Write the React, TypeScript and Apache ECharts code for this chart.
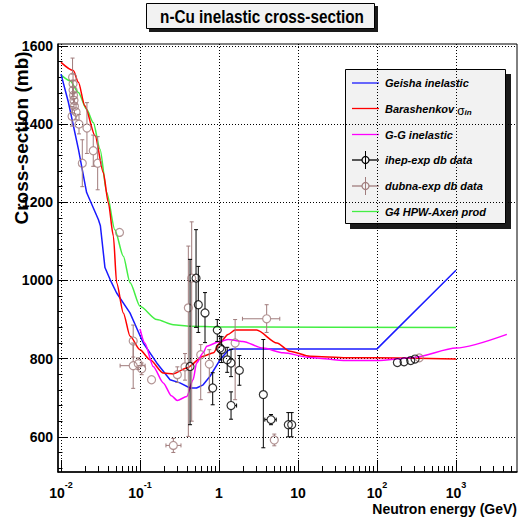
import React, { useEffect, useRef } from 'react';
import * as echarts from 'echarts';

// ---------- axis ticks ----------
const xMajorTicks = [0.01, 0.1, 1, 10, 100, 1000];
const xMinorMult = [2, 3, 4, 5, 6, 7, 8, 9];
const yMajorTicks = [600, 800, 1000, 1200, 1400, 1600];
const yMinorTicks = [520, 560, 640, 680, 720, 760, 840, 880, 920, 960, 1040, 1080, 1120, 1160, 1240, 1280, 1320, 1360, 1440, 1480, 1520, 1560];

// ---------- model curves ----------
const geishaE = [0.01, 0.0112, 0.0124, 0.0166, 0.0211, 0.0297, 0.0315, 0.036, 0.0417, 0.0506, 0.0746, 0.11, 0.163, 0.24, 0.32, 0.43, 0.52, 0.63, 0.77, 1.03, 1.3, 1.5, 100, 1000];
const geishaV = [1528, 1490, 1456, 1336, 1225, 1156, 1140, 1033, 1003, 968, 917, 840, 789, 746, 738, 725, 725, 733, 755, 797, 821, 825, 825, 1026];

const baraE = [0.01, 0.0143, 0.0166, 0.02, 0.027, 0.0343, 0.0397, 0.046, 0.0506, 0.0615, 0.075, 0.1, 0.134, 0.197, 0.264, 0.39, 0.63, 0.85, 1.03, 1.3, 1.6, 3.0, 5.4, 7.9, 14.2, 41, 100, 1000];
const baraV = [1558, 1537, 1507, 1447, 1370, 1276, 1199, 1114, 994, 917, 857, 823, 797, 763, 761, 776, 806, 815, 841, 862, 873, 873, 840, 819, 806, 802, 802, 799];

const ggE = [0.1, 0.115, 0.147, 0.197, 0.25, 0.296, 0.39, 0.47, 0.52, 0.63, 0.7, 1.03, 1.3, 2.0, 3.6, 6.5, 14, 41, 100, 290, 1000, 4400];
const ggV = [876, 840, 780, 738, 705, 693, 703, 746, 789, 815, 832, 844, 849, 844, 827, 815, 803, 795, 795, 803, 827, 862];

const hpwE = [0.01, 0.013, 0.0166, 0.0211, 0.0256, 0.0312, 0.0379, 0.048, 0.0615, 0.075, 0.1, 0.163, 0.264, 0.43, 1, 1000];
const hpwV = [1526, 1511, 1481, 1438, 1404, 1336, 1225, 1130, 1062, 994, 934, 900, 887, 883, 881, 880];

// ---------- ihep-exp data ----------
const ihepE = [0.512, 0.547, 0.665, 0.43, 0.832, 0.951, 1.03, 1.08, 1.27, 1.42, 1.81, 1.42, 3.64, 4.55, 7.54, 8.32, 181, 220, 267, 303];
const ihepV = [1006, 938, 917, 780, 725, 873, 827, 823, 797, 789, 770, 680, 708, 644, 631, 631, 790, 792, 795, 799];
const ihepVLo = [880, 867, 841, 631, 682, 844, 797, 790, 765, 754, 732, 645, 572, 631, 600, 600, 787, 789, 792, 796];
const ihepVHi = [1130, 1036, 969, 1054, 764, 900, 857, 856, 829, 824, 808, 715, 849, 657, 662, 662, 793, 795, 798, 802];
const ihepELo = [0.512, 0.547, 0.665, 0.43, 0.832, 0.951, 1.03, 1.08, 1.27, 1.42, 1.81, 1.25, 3.64, 3.8, 7.54, 8.32, 181, 220, 267, 303];
const ihepEHi = [0.512, 0.547, 0.665, 0.43, 0.832, 0.951, 1.03, 1.08, 1.27, 1.42, 1.81, 1.67, 3.64, 5.3, 7.54, 8.32, 181, 220, 267, 303];

// ---------- dubna-exp data ----------
const dubE = [0.014, 0.0142, 0.0142, 0.0144, 0.0146, 0.0148, 0.0138, 0.0155, 0.0169, 0.0213, 0.0186, 0.0256, 0.0291, 0.055, 0.082, 0.082, 0.095, 0.105, 0.14, 0.264, 0.297, 0.371, 0.409, 0.451, 0.587, 0.754, 1.6, 4.01, 5.01, 343];
const dubV = [1520, 1503, 1487, 1474, 1461, 1446, 1420, 1431, 1400, 1390, 1300, 1332, 1300, 1123, 845, 782, 787, 774, 746, 578, 759, 779, 930, 1006, 810, 786, 840, 902, 592, 802];
const dubVLo = [1471, 1478, 1462, 1454, 1441, 1426, 1395, 1411, 1375, 1325, 1240, 1292, 1232, 1115, 804, 724, 772, 759, 746, 560, 739, 745, 601, 640, 695, 713, 695, 867, 577, 799];
const dubVHi = [1569, 1528, 1512, 1494, 1481, 1466, 1445, 1451, 1425, 1455, 1360, 1372, 1368, 1131, 886, 840, 802, 789, 746, 596, 779, 813, 1088, 1150, 836, 823, 900, 938, 607, 805];
const dubELo = [0.014, 0.0142, 0.0142, 0.0144, 0.0146, 0.0148, 0.0138, 0.0155, 0.0169, 0.0213, 0.0186, 0.0256, 0.0291, 0.055, 0.082, 0.056, 0.095, 0.105, 0.14, 0.213, 0.297, 0.371, 0.409, 0.451, 0.587, 0.754, 1.6, 1.98, 4.4, 343];
const dubEHi = [0.014, 0.0142, 0.0142, 0.0144, 0.0146, 0.0148, 0.0138, 0.0155, 0.0169, 0.0213, 0.0186, 0.0256, 0.0291, 0.055, 0.082, 0.116, 0.095, 0.105, 0.14, 0.33, 0.297, 0.371, 0.409, 0.451, 0.587, 0.754, 1.6, 5.88, 5.7, 343];

// ---------- texts ----------
const titleText = 'n-Cu inelastic cross-section';
const xTitle = 'Neutron energy (GeV)';
const yTitle = 'Cross-section (mb)';
const legendNames = ['Geisha inelastic', 'Barashenkov', 'G-G inelastic', 'ihep-exp db data', 'dubna-exp db data', 'G4 HPW-Axen prod'];

const C_BLUE = '#1a1aff';
const C_RED = '#ff0000';
const C_MAG = '#ff00ff';
const C_GREEN = '#44ee44';
const C_IHEP = '#000000';
const C_DUB = '#a07c7c';

const SANS = '"Liberation Sans", Arial, Helvetica, sans-serif';

const X_MIN = 0.00916;
const X_MAX = 5916;
const Y_MIN = 510;
const Y_MAX = 1605;

function pairs(xs: number[], ys: number[]) {
  return xs.map((x, i) => [x, ys[i]]);
}

function errRows(e: number[], v: number[], lo: number[], hi: number[], el: number[], eh: number[]) {
  return e.map((x, i) => [x, v[i], lo[i], hi[i], el[i], eh[i]]);
}

function makeErrRenderer(color: string) {
  return (params: any, api: any) => {
    const E = api.value(0);
    const v = api.value(1);
    const c = api.coord([E, v]);
    const pLo = api.coord([E, api.value(2)]);
    const pHi = api.coord([E, api.value(3)]);
    const pL = api.coord([api.value(4), v]);
    const pR = api.coord([api.value(5), v]);
    const r = 4;
    const cap = 2;
    const style = { stroke: color, lineWidth: 1 };
    const children: any[] = [];
    const seg = (x1: number, y1: number, x2: number, y2: number) =>
      children.push({ type: 'line', shape: { x1, y1, x2, y2 }, style });
    if (pLo[1] - c[1] > r + 0.5) {
      seg(c[0], c[1] + r, c[0], pLo[1]);
      seg(c[0] - cap, pLo[1], c[0] + cap, pLo[1]);
    }
    if (c[1] - pHi[1] > r + 0.5) {
      seg(c[0], c[1] - r, c[0], pHi[1]);
      seg(c[0] - cap, pHi[1], c[0] + cap, pHi[1]);
    }
    if (c[0] - pL[0] > r + 0.5) {
      seg(c[0] - r, c[1], pL[0], c[1]);
      seg(pL[0], c[1] - cap, pL[0], c[1] + cap);
    }
    if (pR[0] - c[0] > r + 0.5) {
      seg(c[0] + r, c[1], pR[0], c[1]);
      seg(pR[0], c[1] - cap, pR[0], c[1] + cap);
    }
    return { type: 'group', children };
  };
}

function xLabel(val: number) {
  const n = Math.round(Math.log10(val));
  if (n === 0) return '{b|1}';
  if (n === 1) return '{b|10}';
  return '{b|10}{s|' + n + '}';
}

function buildOption() {
  const xMinor: number[] = [];
  xMajorTicks.forEach((d) => xMinorMult.forEach((m) => xMinor.push(d * m)));

  const legendYs = [83, 108.5, 134.5, 160, 186, 211.5];
  const legendColors = [C_BLUE, C_RED, C_MAG, C_IHEP, C_DUB, C_GREEN];
  const legendChildren: any[] = [
    { type: 'rect', shape: { x: 350, y: 74, width: 161, height: 155 }, style: { fill: '#1a1a1a' } },
    { type: 'rect', shape: { x: 345.5, y: 69.5, width: 160, height: 154 }, style: { fill: '#f2f2f2', stroke: '#000', lineWidth: 1 } },
  ];
  legendYs.forEach((y, i) => {
    const col = legendColors[i];
    legendChildren.push({ type: 'line', shape: { x1: 352, y1: y, x2: 379, y2: y }, style: { stroke: col, lineWidth: 1.3 } });
    if (i === 3 || i === 4) {
      legendChildren.push({ type: 'circle', shape: { cx: 365.5, cy: y, r: 3.5 }, style: { fill: '#f2f2f2', stroke: col, lineWidth: 1.2 } });
      legendChildren.push({ type: 'line', shape: { x1: 365.5, y1: y - 9, x2: 365.5, y2: y + 9 }, style: { stroke: col, lineWidth: 1 } });
    }
    const text = i === 1 ? legendNames[1] + ' {g|σ}{sub|in}' : legendNames[i];
    legendChildren.push({
      type: 'text',
      x: 385,
      y: y,
      style: {
        text,
        fill: '#000',
        font: 'italic bold 11px ' + SANS,
        verticalAlign: 'middle',
        align: 'left',
        rich: {
          g: { fontFamily: SANS, fontSize: 12, fontStyle: 'normal', fontWeight: 'normal', fill: '#000', lineHeight: 16, verticalAlign: 'bottom' },
          sub: { fontFamily: SANS, fontSize: 8, fontStyle: 'italic', fontWeight: 'bold', fill: '#000', padding: [6, 0, 0, 0], lineHeight: 16, verticalAlign: 'bottom' },
        },
      },
    });
  });

  return {
    animation: false,
    backgroundColor: '#ffffff',
    grid: {
      left: 58, top: 44, right: 3, bottom: 53,
      show: true, borderColor: '#000', borderWidth: 1, backgroundColor: 'transparent',
      outerBoundsMode: 'none',
    },
    xAxis: [
      {
        type: 'log', min: X_MIN, max: X_MAX, gridIndex: 0, position: 'bottom',
        axisLine: { show: true, onZero: false, lineStyle: { color: '#000', width: 1.5 } },
        axisTick: { show: true, inside: true, length: 12, customValues: xMajorTicks, lineStyle: { color: '#000', width: 1 } },
        axisLabel: {
          show: true, customValues: xMajorTicks, margin: 8, color: '#000',
          formatter: xLabel,
          rich: {
            b: { fontFamily: SANS, fontWeight: 'bold', fontSize: 14, lineHeight: 20, verticalAlign: 'bottom', color: '#000' },
            s: { fontFamily: SANS, fontWeight: 'bold', fontSize: 9, lineHeight: 11, verticalAlign: 'top', color: '#000' },
          },
        },
        splitLine: { show: true, lineStyle: { color: '#000', width: 1, type: [1, 2] } },
        minorTick: { show: false },
      },
      {
        type: 'log', min: X_MIN, max: X_MAX, gridIndex: 0, position: 'bottom',
        axisLine: { show: false, onZero: false },
        axisTick: { show: true, inside: true, length: 6, customValues: xMinor, lineStyle: { color: '#000', width: 1 } },
        axisLabel: { show: false },
        splitLine: { show: false },
      },
    ],
    yAxis: [
      {
        type: 'value', min: Y_MIN, max: Y_MAX, gridIndex: 0, position: 'left',
        axisLine: { show: true, onZero: false, lineStyle: { color: '#000', width: 1.5 } },
        axisTick: { show: true, inside: true, length: 9, customValues: yMajorTicks, lineStyle: { color: '#000', width: 1 } },
        axisLabel: {
          show: true, customValues: yMajorTicks, margin: 5, color: '#000',
          fontFamily: SANS, fontWeight: 'bold', fontSize: 14,
          formatter: (v: number) => String(v),
        },
        splitLine: { show: true, lineStyle: { color: '#000', width: 1, type: [1, 2] } },
      },
      {
        type: 'value', min: Y_MIN, max: Y_MAX, gridIndex: 0, position: 'left',
        axisLine: { show: false, onZero: false },
        axisTick: { show: true, inside: true, length: 4.5, customValues: yMinorTicks, lineStyle: { color: '#000', width: 1 } },
        axisLabel: { show: false },
        splitLine: { show: false },
      },
    ],
    series: [
      {
        type: 'line', name: legendNames[5], data: pairs(hpwE, hpwV), symbol: 'none', smooth: 0.25, smoothMonotone: 'x',
        lineStyle: { color: C_GREEN, width: 1.5 }, z: 2, clip: true,
      },
      {
        type: 'line', name: legendNames[0], data: pairs(geishaE, geishaV), symbol: 'none', smooth: false,
        lineStyle: { color: C_BLUE, width: 1.5 }, z: 2, clip: true,
      },
      {
        type: 'line', name: legendNames[1], data: pairs(baraE, baraV), symbol: 'none', smooth: 0.25, smoothMonotone: 'x',
        lineStyle: { color: C_RED, width: 1.5 }, z: 2, clip: true,
      },
      {
        type: 'line', name: legendNames[2], data: pairs(ggE, ggV), symbol: 'none', smooth: 0.25, smoothMonotone: 'x',
        lineStyle: { color: C_MAG, width: 1.5 }, z: 2, clip: true,
      },
      {
        type: 'custom', name: legendNames[4] + ' errors', renderItem: makeErrRenderer(C_DUB),
        data: errRows(dubE, dubV, dubVLo, dubVHi, dubELo, dubEHi), encode: { x: 0, y: 1 }, z: 3, clip: true,
      },
      {
        type: 'scatter', name: legendNames[4], data: pairs(dubE, dubV), symbol: 'circle', symbolSize: 8,
        itemStyle: { color: 'rgba(0,0,0,0)', borderColor: C_DUB, borderWidth: 1.2 }, z: 4,
      },
      {
        type: 'custom', name: legendNames[3] + ' errors', renderItem: makeErrRenderer(C_IHEP),
        data: errRows(ihepE, ihepV, ihepVLo, ihepVHi, ihepELo, ihepEHi), encode: { x: 0, y: 1 }, z: 5, clip: true,
      },
      {
        type: 'scatter', name: legendNames[3], data: pairs(ihepE, ihepV), symbol: 'circle', symbolSize: 8,
        itemStyle: { color: 'rgba(0,0,0,0)', borderColor: C_IHEP, borderWidth: 1.2 }, z: 6,
      },
    ],
    graphic: [
      {
        type: 'group', z: 100, children: [
          { type: 'rect', shape: { x: 149, y: 6, width: 229, height: 26 }, style: { fill: '#1a1a1a' } },
          { type: 'rect', shape: { x: 146.5, y: 3.5, width: 228, height: 25 }, style: { fill: '#f2f2f2', stroke: '#000', lineWidth: 1 } },
          {
            type: 'text', x: 262, y: 17, scaleX: 0.85,
            style: { text: titleText, font: 'bold 18px ' + SANS, fill: '#000', align: 'center', verticalAlign: 'middle' },
          },
        ],
      },
      { type: 'group', z: 100, children: legendChildren },
      {
        type: 'text', z: 100, x: 21, y: 138, rotation: Math.PI / 2,
        style: { text: yTitle, font: 'bold 19px ' + SANS, fill: '#000', align: 'center', verticalAlign: 'middle' },
      },
      {
        type: 'text', z: 100, x: 517, y: 509,
        style: { text: xTitle, font: 'bold 14px ' + SANS, fill: '#000', align: 'right', verticalAlign: 'middle' },
      },
    ],
  };
}

export default function App() {
  const ref = useRef<HTMLDivElement>(null);
  useEffect(() => {
    if (!ref.current) return;
    const chart = echarts.init(ref.current, null, { renderer: 'svg' });
    chart.setOption(buildOption() as any);
    return () => chart.dispose();
  }, []);
  return (
    <div
      ref={ref}
      style={{ position: 'fixed', left: 0, top: 0, width: 520, height: 525, background: '#fff' }}
    />
  );
}
